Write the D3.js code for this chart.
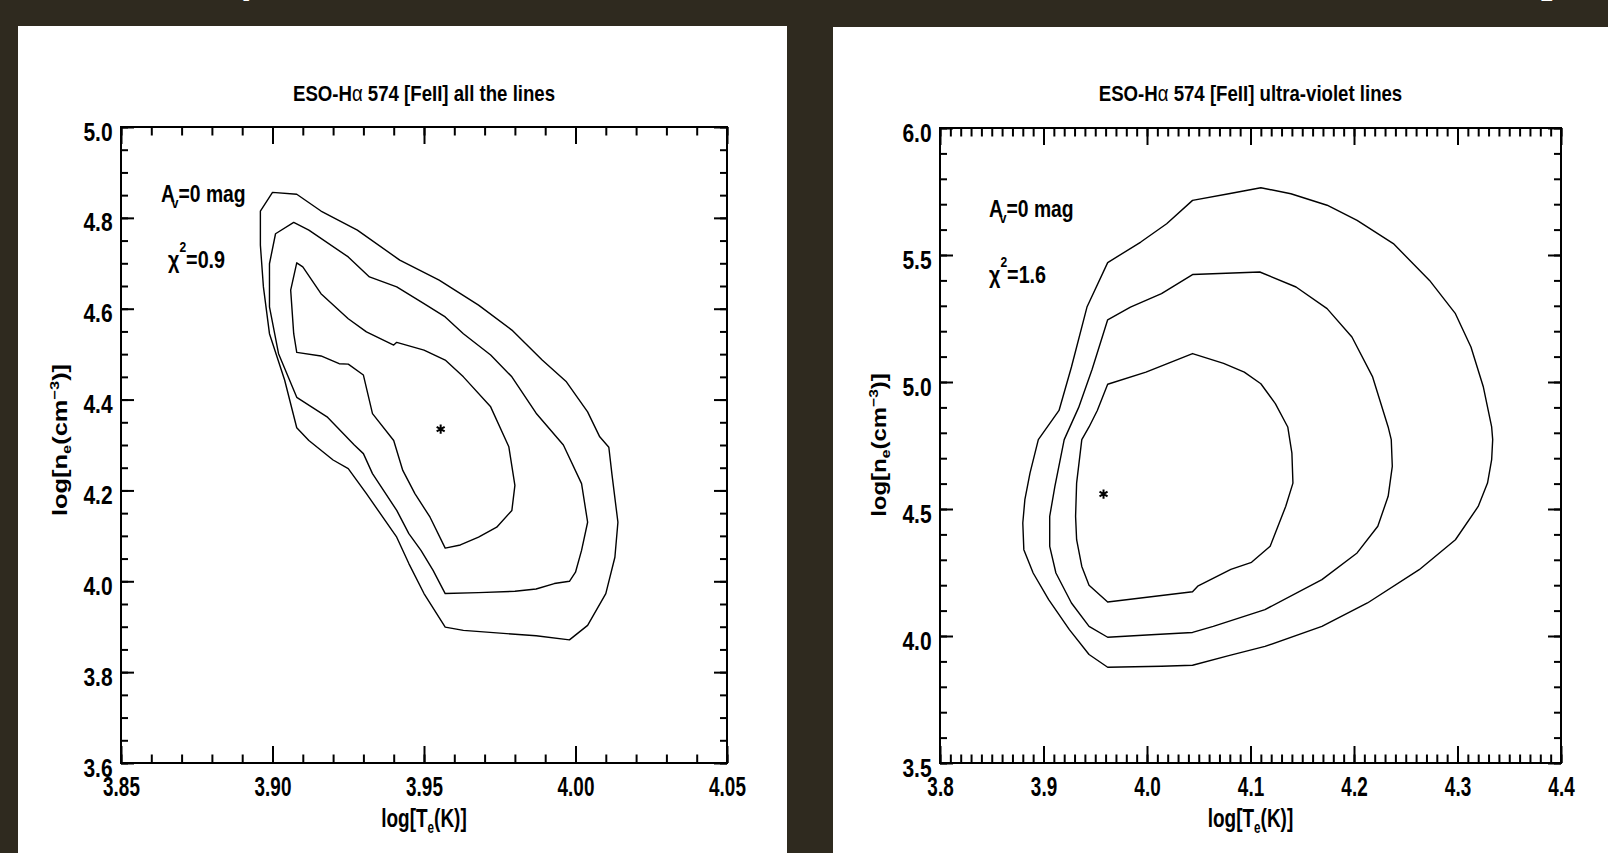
<!DOCTYPE html>
<html>
<head>
<meta charset="utf-8">
<script src="https://cdn.jsdelivr.net/npm/d3@7"></script>
<style>
  body { margin: 0; background: #2f2a1f; }
  svg { display: block; }
  text { font-family: 'Liberation Sans', Arial, Helvetica, sans-serif; font-weight: bold; fill: #000; }
</style>
</head>
<body>
<svg id="chart"></svg>
<script>
// chi-square confidence contours (log Te, log ne)
const leftOuter = [
    [3.896,4.815],[3.900,4.856],[3.908,4.852],[3.916,4.815],[3.928,4.773],[3.942,4.707],[3.955,4.663],
    [3.968,4.608],[3.979,4.553],[3.989,4.487],[3.997,4.439],[4.004,4.373],[4.008,4.318],[4.011,4.295],
    [4.012,4.237],[4.014,4.130],[4.013,4.053],[4.010,3.973],[4.004,3.903],[3.998,3.871],[3.987,3.880],
    [3.963,3.892],[3.957,3.899],[3.950,3.973],[3.945,4.039],[3.941,4.097],[3.931,4.193],[3.925,4.248],
    [3.920,4.267],[3.912,4.310],[3.908,4.338],[3.904,4.443],[3.899,4.545],[3.897,4.648],[3.896,4.740]
];
const leftMiddle = [
    [3.901,4.765],[3.907,4.790],[3.912,4.773],[3.925,4.714],[3.932,4.670],[3.941,4.648],[3.950,4.611],
    [3.957,4.582],[3.963,4.545],[3.972,4.498],[3.979,4.450],[3.987,4.370],[3.996,4.300],[4.002,4.215],
    [4.004,4.130],[4.002,4.068],[4.000,4.020],[3.998,4.000],[3.993,3.995],[3.987,3.983],[3.980,3.978],
    [3.968,3.975],[3.957,3.973],[3.953,4.024],[3.949,4.068],[3.945,4.105],[3.941,4.156],[3.933,4.237],
    [3.930,4.281],[3.927,4.300],[3.918,4.362],[3.908,4.405],[3.902,4.501],[3.899,4.604],[3.899,4.699]
];
const leftInner = [
    [3.908,4.701],[3.910,4.692],[3.916,4.633],[3.925,4.578],[3.931,4.549],[3.940,4.520],[3.941,4.526],
    [3.950,4.509],[3.957,4.487],[3.963,4.450],[3.972,4.384],[3.978,4.296],[3.980,4.211],[3.979,4.156],
    [3.974,4.119],[3.968,4.097],[3.962,4.080],[3.957,4.073],[3.952,4.141],[3.947,4.193],[3.943,4.244],
    [3.940,4.310],[3.933,4.369],[3.930,4.454],[3.925,4.478],[3.922,4.479],[3.916,4.496],[3.908,4.504],
    [3.907,4.545],[3.906,4.641]
];
const rightOuter = [
    [3.962,5.470],[3.994,5.551],[4.019,5.623],[4.044,5.715],[4.079,5.741],[4.110,5.765],[4.139,5.741],
    [4.174,5.696],[4.203,5.636],[4.238,5.545],[4.273,5.400],[4.298,5.269],[4.313,5.138],[4.325,4.980],
    [4.333,4.823],[4.334,4.773],[4.333,4.694],[4.329,4.602],[4.320,4.510],[4.298,4.379],[4.263,4.261],
    [4.213,4.130],[4.169,4.038],[4.114,3.959],[4.079,3.923],[4.044,3.885],[4.014,3.881],[3.962,3.877],
    [3.944,3.927],[3.925,4.025],[3.905,4.143],[3.890,4.248],[3.881,4.340],[3.880,4.445],[3.882,4.537],
    [3.887,4.642],[3.895,4.773],[3.915,4.888],[3.927,5.059],[3.942,5.295]
];
const rightMiddle = [
    [3.962,5.245],[3.984,5.295],[4.014,5.348],[4.044,5.423],[4.109,5.433],[4.144,5.374],[4.174,5.289],
    [4.198,5.177],[4.218,5.020],[4.233,4.823],[4.236,4.773],[4.237,4.668],[4.233,4.550],[4.223,4.432],
    [4.203,4.327],[4.169,4.222],[4.114,4.104],[4.064,4.038],[4.044,4.014],[4.004,4.005],[3.962,3.995],
    [3.944,4.038],[3.927,4.130],[3.912,4.248],[3.906,4.353],[3.906,4.471],[3.911,4.589],[3.920,4.773],
    [3.934,4.900],[3.947,5.050]
];
const rightInner = [
    [3.962,4.991],[3.999,5.039],[4.044,5.112],[4.074,5.073],[4.094,5.039],[4.110,4.993],[4.124,4.915],
    [4.136,4.823],[4.140,4.720],[4.141,4.602],[4.134,4.510],[4.119,4.353],[4.101,4.290],[4.081,4.262],
    [4.049,4.196],[4.044,4.174],[3.962,4.134],[3.944,4.200],[3.937,4.274],[3.932,4.379],[3.931,4.471],
    [3.932,4.602],[3.937,4.773],[3.944,4.823],[3.952,4.888]
];

// best-fit points (asterisks)
const leftBest = [3.9555, 4.335];
const rightBest = [3.958, 4.559];

// axes
const leftXTicks = [3.85, 3.90, 3.95, 4.00, 4.05];
const leftYTicks = [3.6, 3.8, 4.0, 4.2, 4.4, 4.6, 4.8, 5.0];
const rightXTicks = [3.8, 3.9, 4.0, 4.1, 4.2, 4.3, 4.4];
const rightYTicks = [3.5, 4.0, 4.5, 5.0, 5.5, 6.0];

const panelNames = ['all the lines', 'ultra-violet lines'];
const extinction = ['0', '0'];
const chi2 = ['0.9', '1.6'];

const width = 1608;
const height = 853;

const svg = d3.select('svg#chart')
    .attr('width', width)
    .attr('height', height);

// bits of the slide heading, cut off at the top
svg.append('text').attr('x', 236).attr('y', -7).style('font-size', '40px').style('fill', '#fff').text('(');
svg.append('text').attr('x', 1541).attr('y', -7).style('font-size', '40px').style('fill', '#fff').text(']');

const panels = [
    {
        card: [18, 26, 769, 827],
        frame: { left: 121, right: 727, top: 127, bottom: 763 },
        xDomain: [3.85, 4.05], yDomain: [3.6, 5.0],
        xTicks: leftXTicks, yTicks: leftYTicks,
        xMinor: 0.01, yMinor: 0.05, xFmt: '.2f',
        contours: [leftOuter, leftMiddle, leftInner],
        best: leftBest,
        name: panelNames[0], av: extinction[0], chi: chi2[0],
        avPos: [161, 202], chiPos: [168, 268],
        yTitle: { y: 440, sx: 1.27 }
    },
    {
        card: [833, 27, 775, 826],
        frame: { left: 940, right: 1561, top: 128, bottom: 763 },
        xDomain: [3.8, 4.4], yDomain: [3.5, 6.0],
        xTicks: rightXTicks, yTicks: rightYTicks,
        xMinor: 0.01, yMinor: 0.1, xFmt: '.1f',
        contours: [rightOuter, rightMiddle, rightInner],
        best: rightBest,
        name: panelNames[1], av: extinction[1], chi: chi2[1],
        avPos: [989, 217], chiPos: [989, 283],
        yTitle: { y: 445, sx: 1.2 }
    }
];

function minorTicks(domain, step) {
    return d3.range(Math.round(domain[0] / step), Math.round(domain[1] / step) + 1)
        .map(i => +(i * step).toFixed(4));
}

function label(g, tx, ty, size, sx, anchor, rot) {
    return g.append('text')
        .attr('transform', `translate(${tx},${ty})` + (rot ? ` rotate(${rot})` : '') + ` scale(${sx},1)`)
        .attr('text-anchor', anchor)
        .style('font-size', size + 'px');
}

function styleAxis(sel) {
    sel.select('.domain').remove();
    sel.attr('font-family', null).attr('font-size', null);
    sel.selectAll('.tick line').attr('stroke', '#000').attr('stroke-width', 2);
}

panels.forEach(p => {
    const f = p.frame;
    const g = svg.append('g');

    g.append('rect')
        .attr('x', p.card[0]).attr('y', p.card[1])
        .attr('width', p.card[2]).attr('height', p.card[3])
        .attr('fill', '#fff');

    const x = d3.scaleLinear().domain(p.xDomain).range([f.left, f.right]);
    const y = d3.scaleLinear().domain(p.yDomain).range([f.bottom, f.top]);

    const xm = minorTicks(p.xDomain, p.xMinor);
    const ym = minorTicks(p.yDomain, p.yMinor);

    // minor ticks on all four sides
    g.append('g').attr('transform', `translate(0,${f.bottom})`)
        .call(d3.axisBottom(x).tickValues(xm).tickSize(-8.5).tickSizeOuter(0).tickFormat(''))
        .call(styleAxis);
    g.append('g').attr('transform', `translate(0,${f.top})`)
        .call(d3.axisTop(x).tickValues(xm).tickSize(-8.5).tickSizeOuter(0).tickFormat(''))
        .call(styleAxis);
    g.append('g').attr('transform', `translate(${f.left},0)`)
        .call(d3.axisLeft(y).tickValues(ym).tickSize(-7).tickSizeOuter(0).tickFormat(''))
        .call(styleAxis);
    g.append('g').attr('transform', `translate(${f.right},0)`)
        .call(d3.axisRight(y).tickValues(ym).tickSize(-7).tickSizeOuter(0).tickFormat(''))
        .call(styleAxis);

    // major ticks with labels
    const xAxis = g.append('g').attr('transform', `translate(0,${f.bottom})`)
        .call(d3.axisBottom(x).tickValues(p.xTicks).tickSize(-17).tickSizeOuter(0)
            .tickPadding(14).tickFormat(d3.format(p.xFmt)))
        .call(styleAxis);
    xAxis.selectAll('.tick text')
        .attr('fill', '#000')
        .attr('transform', 'scale(0.7,1)')
        .style('font-size', '27px');

    g.append('g').attr('transform', `translate(0,${f.top})`)
        .call(d3.axisTop(x).tickValues(p.xTicks).tickSize(-17).tickSizeOuter(0).tickFormat(''))
        .call(styleAxis);

    const yAxis = g.append('g').attr('transform', `translate(${f.left},0)`)
        .call(d3.axisLeft(y).tickValues(p.yTicks).tickSize(-13).tickSizeOuter(0)
            .tickPadding(10).tickFormat(d3.format('.1f')))
        .call(styleAxis);
    yAxis.selectAll('.tick text')
        .attr('fill', '#000')
        .attr('dy', '0.52em')
        .attr('transform', 'scale(0.84,1)')
        .style('font-size', '25px');

    g.append('g').attr('transform', `translate(${f.right},0)`)
        .call(d3.axisRight(y).tickValues(p.yTicks).tickSize(-13).tickSizeOuter(0).tickFormat(''))
        .call(styleAxis);

    g.append('rect')
        .attr('x', f.left).attr('y', f.top)
        .attr('width', f.right - f.left).attr('height', f.bottom - f.top)
        .attr('fill', 'none').attr('stroke', '#000').attr('stroke-width', 2);

    // contours
    const line = d3.line()
        .x(d => x(d[0]))
        .y(d => y(d[1]))
        .curve(d3.curveLinearClosed);

    g.selectAll('path.contour')
        .data(p.contours)
        .join('path')
        .attr('class', 'contour')
        .attr('d', line)
        .attr('fill', 'none')
        .attr('stroke', '#000')
        .attr('stroke-width', 1.4)
        .attr('stroke-linejoin', 'round');

    g.append('path')
        .attr('d', d3.symbol(d3.symbolAsterisk, 60)())
        .attr('transform', `translate(${x(p.best[0])},${y(p.best[1])})`)
        .attr('fill', 'none')
        .attr('stroke', '#000')
        .attr('stroke-width', 2);

    // title
    const cx = (f.left + f.right) / 2;
    const title = label(g, cx, 101, 23, 0.81, 'middle');
    title.append('tspan').text('ESO-H');
    title.append('tspan').style('font-weight', 'normal').text('α');
    title.append('tspan').text(' 574 [FeII] ' + p.name);

    // x title
    const xt = label(g, cx, 826.5, 26, 0.73, 'middle');
    xt.append('tspan').text('log[T');
    xt.append('tspan').attr('dy', 6).style('font-size', '16px').text('e');
    xt.append('tspan').attr('dy', -6).text('(K)]');

    // y title
    const yt = label(g, f.left - 54, p.yTitle.y, 20, p.yTitle.sx, 'middle', -90);
    yt.append('tspan').text('log[n');
    yt.append('tspan').attr('dy', 4).style('font-size', '13px').text('e');
    yt.append('tspan').attr('dy', -4).text('(cm');
    yt.append('tspan').attr('dy', -8).style('font-size', '13px').text('−3');
    yt.append('tspan').attr('dy', 8).text(')]');

    // annotations
    const av = label(g, p.avPos[0], p.avPos[1], 23, 0.84, 'start');
    av.append('tspan').text('A');
    av.append('tspan').attr('dx', -4).attr('dy', 6).style('font-size', '15px').text('v');
    av.append('tspan').attr('dy', -6).text('=' + p.av + ' mag');

    const ch = label(g, p.chiPos[0], p.chiPos[1], 23, 0.86, 'start');
    ch.append('tspan').text('χ');
    ch.append('tspan').attr('dy', -16).style('font-size', '14px').text('2');
    ch.append('tspan').attr('dy', 16).text('=' + p.chi);
});
</script>
</body>
</html>
